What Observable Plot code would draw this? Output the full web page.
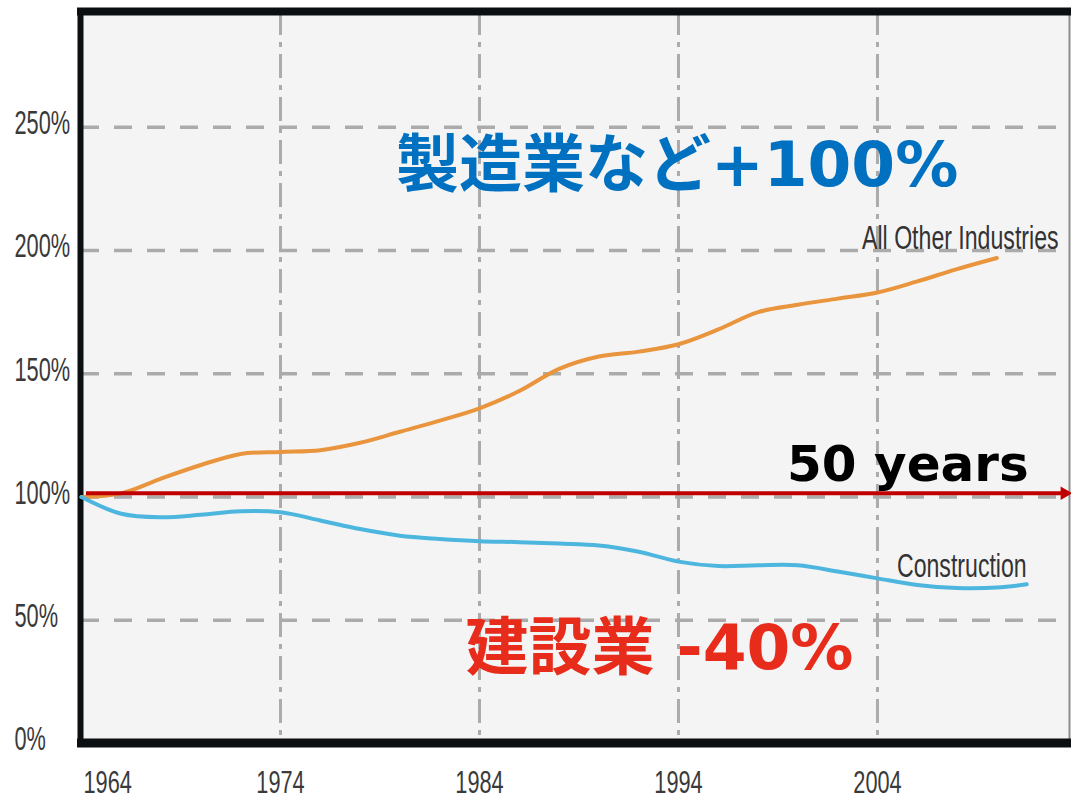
<!DOCTYPE html>
<html>
<head>
<meta charset="utf-8">
<script src="https://cdn.jsdelivr.net/npm/d3@7"></script>
<script src="https://cdn.jsdelivr.net/npm/@observablehq/plot@0.6"></script>
<style>
  html, body { margin: 0; padding: 0; background: #ffffff; }
  #chart svg { display: block; }
</style>
</head>
<body>
<div id="chart"></div>
<script>
// Employment index, 1964 = 100%
const otherYears = [1964, 1966, 1968, 1970, 1972, 1974, 1976, 1978, 1980, 1982, 1984, 1986,
                    1988, 1990, 1992, 1994, 1996, 1998, 2000, 2002, 2004, 2006, 2008, 2010];
const otherValues = [100, 101.5, 107.5, 113, 117.5, 118.3, 119, 122, 126.5, 131, 136, 143,
                     152, 157, 159, 162, 168, 175, 178, 180.5, 183, 187.5, 192.5, 197];

const constructionYears = [1964, 1966, 1968, 1970, 1972, 1974, 1976, 1978, 1980, 1982, 1984, 1986,
                           1988, 1990, 1992, 1994, 1996, 1998, 2000, 2002, 2004, 2006, 2008, 2010, 2011.5];
const constructionValues = [100, 93.2, 91.8, 92.8, 94.2, 93.8, 90.5, 87, 84.3, 83, 82.1, 81.7,
                            81.1, 80.3, 77.8, 73.8, 72, 72.3, 72.3, 69.8, 67, 64.3, 63.1, 63.3, 64.6];

const seriesNames = ["All Other Industries", "Construction"];
const xTicks = [1964, 1974, 1984, 1994, 2004];
const yTicks = [0, 50, 100, 150, 200, 250];

const spanLevel = 101.5;           // level of the "50 years" arrow
const spanLabel = "50 years";
const otherNote = "製造業など+100%";
const constructionNote = "建設業 -40%";

const other = otherYears.map((year, i) => ({year, value: otherValues[i]}));
const construction = constructionYears.map((year, i) => ({year, value: constructionValues[i]}));

const xMax = 2013.65;
const yMax = 297;
const plain = "'Liberation Sans', Arial, sans-serif";
const bold = "'DejaVu Sans', 'Noto Sans CJK JP', sans-serif";
const ink = "#0b0f12";
const red = "#C00000";
const tickInk = "#3a3a3a";

const chart = Plot.plot({
  width: 1071,
  height: 800,
  marginLeft: 81,
  marginRight: 2,
  marginTop: 11,
  marginBottom: 57,
  style: {background: "#ffffff", color: "#333"},
  x: {domain: [1964, xMax], label: null},
  y: {domain: [0, yMax], label: null},
  marks: [
    Plot.frame({fill: "#f5f4f5", stroke: "none"}),
    Plot.gridY(yTicks.filter(d => d > 0), {stroke: "#ababab", strokeOpacity: 1, strokeWidth: 3.5, strokeDasharray: "18,15"}),
    Plot.gridX(xTicks.filter(d => d > 1964), {stroke: "#ababab", strokeOpacity: 1, strokeWidth: 3, strokeDasharray: "24,7,5,7"}),
    // chart border
    Plot.ruleX([xMax], {stroke: "#8c8c8c", strokeWidth: 2}),
    Plot.ruleY([yMax], {x1: 1963.8, x2: 2013.75, stroke: ink, strokeWidth: 8}),
    Plot.ruleY([0], {x1: 1963.8, x2: 2013.75, stroke: ink, strokeWidth: 9, dy: -0.5}),
    Plot.ruleX([1964], {y1: -1, y2: yMax, stroke: ink, strokeWidth: 6, dx: -1}),
    // axes
    Plot.axisY({ticks: yTicks, tickFormat: d => d + "%", tickSize: 0, tickPadding: 67, textAnchor: "start",
                dy: -4, fontSize: 34, fontFamily: plain, fill: tickInk}),
    Plot.axisX({ticks: xTicks.filter(d => d > 1964), tickFormat: d => String(d), tickSize: 0, tickPadding: 27,
                fontSize: 32, fontFamily: plain, fill: tickInk}),
    Plot.axisX({ticks: [1964], tickFormat: d => String(d), tickSize: 0, tickPadding: 27, textAnchor: "start", dx: 2,
                fontSize: 32, fontFamily: plain, fill: tickInk}),
    // series
    Plot.line(other, {x: "year", y: "value", stroke: "#E9953D", strokeWidth: 4, curve: "catmull-rom"}),
    Plot.line(construction, {x: "year", y: "value", stroke: "#4DB6DE", strokeWidth: 4, curve: "catmull-rom"}),
    Plot.text([seriesNames[0]], {x: 2013.1, y: 205, text: d => d, textAnchor: "end", fontSize: 34,
                                 fontFamily: plain, fill: "#333"}),
    Plot.text([seriesNames[1]], {x: 2011.5, y: 71.8, text: d => d, textAnchor: "end", fontSize: 34,
                                 fontFamily: plain, fill: "#333"}),
    // 50-year span arrow
    Plot.ruleY([spanLevel], {x1: 1964.25, x2: xMax - 0.3, stroke: red, strokeWidth: 4}),
    Plot.dot([spanLevel], {x: xMax, y: d => d, symbol: "triangle", rotate: 90, r: 5, fill: red, stroke: "none", dx: -5}),
    Plot.text([spanLabel], {x: 2011.6, y: spanLevel, text: d => d, textAnchor: "end", dy: -28,
                            fontSize: 50, fontWeight: "bold", fontFamily: bold, fill: "#000"}),
    // headline notes
    Plot.text([otherNote], {x: 1979.8, y: 234.5, text: d => d, textAnchor: "start",
                            fontSize: 63, fontWeight: "bold", fontFamily: bold, fill: "#0070C0"}),
    Plot.text([constructionNote], {x: 1983.3, y: 38.6, text: d => d, textAnchor: "start",
                                   fontSize: 63, fontWeight: "bold", fontFamily: bold, fill: "#E82C1C"})
  ]
});

document.getElementById("chart").appendChild(chart);

// Condensed look for the tick labels
const squeeze = (sel, k) => sel.each(function () {
  const w = this.getComputedTextLength();
  this.setAttribute("textLength", (w * k).toFixed(1));
  this.setAttribute("lengthAdjust", "spacingAndGlyphs");
});
const svg = d3.select(chart);
squeeze(svg.selectAll('g[aria-label="x-axis tick label"] text'), 0.68);
squeeze(svg.selectAll('g[aria-label="y-axis tick label"] text'), 0.64);

// Series labels: narrow them horizontally about their anchor point
svg.selectAll("text")
  .filter(function () { return seriesNames.includes(this.textContent); })
  .each(function () {
    let t = this.getAttribute("transform") || "";
    const x = this.getAttribute("x");
    if (x !== null && isFinite(+x)) {
      t = `translate(${+x},0) ` + t;
      this.removeAttribute("x");
    }
    this.setAttribute("transform", `${t} scale(0.68,1)`.trim());
  });
</script>
</body>
</html>
